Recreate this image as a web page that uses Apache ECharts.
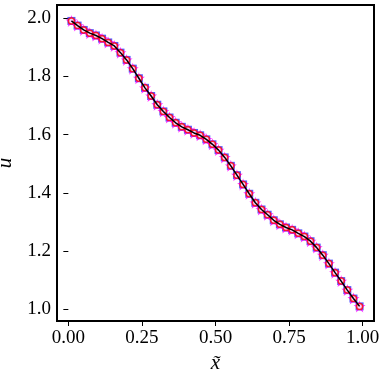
<!DOCTYPE html>
<html>
<head>
<meta charset="utf-8">
<script src="https://cdn.jsdelivr.net/npm/echarts@6/dist/echarts.min.js"></script>
<style>
html,body{margin:0;padding:0;background:#fff;}
#c{width:382px;height:374px;}
</style>
</head>
<body>
<div id="c"></div>
<script>
// x-tilde values: cell centres of 48 cells
const xTilde = [
  0.0104,0.0313,0.0521,0.0729,0.0938,0.1146,0.1354,0.1563,0.1771,0.1979,
  0.2188,0.2396,0.2604,0.2813,0.3021,0.3229,0.3438,0.3646,0.3854,0.4063,
  0.4271,0.4479,0.4688,0.4896,0.5104,0.5313,0.5521,0.5729,0.5938,0.6146,
  0.6354,0.6563,0.6771,0.6979,0.7188,0.7396,0.7604,0.7813,0.8021,0.8229,
  0.8438,0.8646,0.8854,0.9063,0.9271,0.9479,0.9688,0.9896
];
const uValues = [
  1.991,1.975,1.960,1.949,1.941,1.930,1.917,1.905,1.882,1.857,
  1.827,1.794,1.761,1.733,1.703,1.680,1.659,1.641,1.627,1.617,
  1.606,1.598,1.584,1.567,1.547,1.522,1.493,1.461,1.429,1.397,
  1.366,1.343,1.325,1.306,1.292,1.281,1.273,1.261,1.250,1.234,
  1.212,1.186,1.157,1.126,1.097,1.066,1.037,1.010
];
const xTicks = [0, 0.25, 0.5, 0.75, 1.0];
const yTicks = [1.0, 1.2, 1.4, 1.6, 1.8, 2.0];

const pts = xTilde.map((x, i) => [x, uValues[i]]);
const FONT = 'Liberation Serif';
const star = 'path://M0,-1 L0.2245,-0.309 L0.951,-0.309 L0.363,0.118 L0.588,0.809 L0,0.382 L-0.588,0.809 L-0.363,0.118 L-0.951,-0.309 L-0.2245,-0.309Z';

const chart = echarts.init(document.getElementById('c'), null, {renderer: 'canvas'});
chart.setOption({
  animation: false,
  backgroundColor: '#fff',
  grid: {left: 57, right: 8, top: 5, bottom: 53, outerBoundsMode: 'none', containLabel: false,
    show: true, borderColor: '#000', borderWidth: 2, backgroundColor: 'transparent'},
  xAxis: {
    type: 'value', min: -0.0386, max: 1.0386,
    name: 'x\u0303', nameLocation: 'middle', nameGap: 32,
    nameTextStyle: {fontFamily: FONT, fontStyle: 'italic', fontSize: 21, color: '#000'},
    axisLine: {show: false},
    splitLine: {show: false},
    axisTick: {show: true, inside: false, length: 5, lineStyle: {color: '#000', width: 1}, customValues: xTicks},
    axisLabel: {show: true, margin: 8, fontFamily: FONT, fontSize: 19, color: '#000', customValues: xTicks,
      formatter: v => v.toFixed(2)}
  },
  yAxis: {
    type: 'value', min: 0.9598, max: 2.0457,
    name: 'u', nameLocation: 'middle', nameGap: 37,
    nameTextStyle: {fontFamily: FONT, fontStyle: 'italic', fontSize: 21, color: '#000'},
    axisLine: {show: false},
    splitLine: {show: false},
    axisTick: {show: true, inside: false, length: 5, lineStyle: {color: '#000', width: 1}, customValues: yTicks},
    axisLabel: {show: true, margin: 6, fontFamily: FONT, fontSize: 19, color: '#000', customValues: yTicks,
      formatter: v => v.toFixed(1)}
  },
  series: [
    {type: 'scatter', data: pts, symbol: 'rect', symbolSize: 8, itemStyle: {color: '#3030ff'}, z: 1},
    {type: 'scatter', data: pts, symbol: star, symbolSize: 12, itemStyle: {color: '#ff00ff'}, z: 2},
    {type: 'scatter', data: pts, symbol: 'circle', symbolSize: 6, itemStyle: {color: '#ffffff', borderColor: '#ff0000', borderWidth: 1.5}, z: 3},
    {type: 'line', data: pts, showSymbol: false, symbol: 'none', lineStyle: {color: '#000', width: 1.5}, z: 4}
  ]
});
</script>
</body>
</html>
